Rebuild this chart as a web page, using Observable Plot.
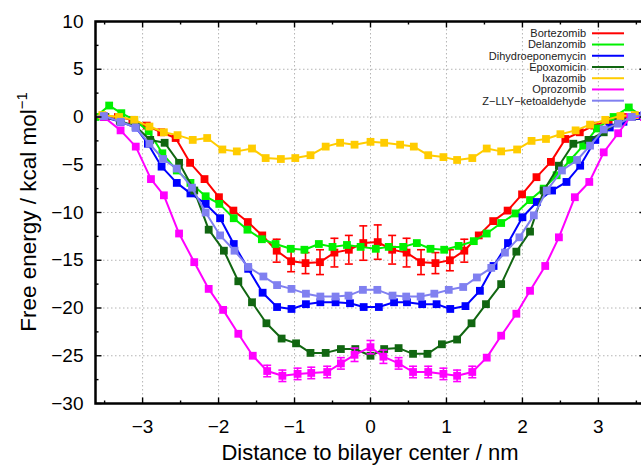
<!DOCTYPE html>
<html><head><meta charset="utf-8">
<script src="https://cdn.jsdelivr.net/npm/d3@7"></script>
<script src="https://cdn.jsdelivr.net/npm/@observablehq/plot@0.6"></script>
<style>
html,body{margin:0;padding:0;background:#fff;overflow:hidden;width:641px;height:466px}
#chart{width:641px;height:466px;overflow:hidden;position:relative}
#chart svg{max-width:none !important;width:650px !important;height:466px !important;display:block}
</style></head><body><div id="chart"></div>
<script>
const seriesNames = ["Bortezomib","Delanzomib","Dihydroeponemycin","Epoxomicin","Ixazomib","Oprozomib","Z\u2212LLY\u2212ketoaldehyde"];
const seriesColors = ["#ff0000","#00f000","#0000ff","#116611","#ffcc00","#ff00ff","#8080f0"];

const xTicks = [-3,-2,-1,0,1,2,3];
const xMinorTicks = [-3.5,-2.5,-1.5,-0.5,0.5,1.5,2.5,3.5];
const yTicks = [-30,-25,-20,-15,-10,-5,0,5,10];
const yMinorTicks = [-27.5,-22.5,-17.5,-12.5,-7.5,-2.5,2.5,7.5];

const bortezomibX = [-3.70,-3.515,-3.325,-3.135,-2.945,-2.755,-2.565,-2.375,-2.185,-1.995,-1.805,-1.615,-1.425,-1.235,-1.045,-0.855,-0.665,-0.475,-0.285,-0.095,0.095,0.285,0.475,0.665,0.855,1.045,1.235,1.425,1.615,1.805,1.995,2.185,2.375,2.565,2.755,2.945,3.135,3.325,3.515,3.70];
const bortezomibY = [0,0.1,0,-0.3,-0.9,-1.6,-2.2,-4.8,-6.5,-8.4,-9.8,-11.0,-12.4,-14.0,-15.1,-15.3,-15.2,-14.2,-13.9,-13.2,-13.1,-13.9,-14.2,-15.2,-15.3,-15.0,-14.0,-12.4,-10.9,-9.8,-8.1,-6.3,-4.7,-2.3,-1.6,-0.9,-0.4,0,0.1,0];
const bortezomibErr = [null,null,null,null,null,null,null,null,null,null,null,null,null,1.2,1.1,1.1,1.3,1.5,1.5,1.8,1.8,1.5,1.5,1.3,1.1,1.1,1.2,null,null,null,null,null,null,null,null,null,null,null,null,null];

const delanzomibX = [-3.62,-3.44,-3.28,-3.11,-2.92,-2.74,-2.55,-2.37,-2.17,-1.99,-1.80,-1.62,-1.43,-1.25,-1.05,-0.87,-0.68,-0.50,-0.31,-0.13,0.07,0.24,0.43,0.61,0.79,0.97,1.16,1.36,1.53,1.72,1.91,2.10,2.28,2.45,2.63,2.80,2.98,3.20,3.40,3.60];
const delanzomibY = [0,1.2,0.4,-0.3,-1.5,-3.8,-5.6,-6.9,-8.3,-9.1,-10.6,-11.8,-12.8,-13.3,-13.8,-13.9,-13.3,-13.6,-13.4,-13.6,-13.8,-13.6,-13.6,-13.2,-13.8,-13.9,-13.5,-13.0,-12.2,-11.1,-10.1,-8.7,-7.5,-6.1,-4.5,-3.0,-1.2,0.0,1.0,0];

const dihydroX = [-3.70,-3.51,-3.29,-3.09,-2.93,-2.75,-2.55,-2.37,-2.17,-1.98,-1.80,-1.61,-1.42,-1.23,-1.04,-0.85,-0.66,-0.46,-0.27,-0.09,0.11,0.31,0.48,0.68,0.87,1.05,1.25,1.44,1.62,1.81,2.00,2.19,2.39,2.58,2.76,2.96,3.15,3.33,3.53,3.70];
const dihydroY = [0,0,-0.5,-1.1,-2.8,-5.2,-6.9,-8.0,-9.1,-10.6,-13.3,-15.9,-18.4,-19.9,-20.1,-19.6,-19.4,-19.4,-19.5,-19.9,-19.9,-19.4,-19.4,-19.6,-19.6,-20.1,-19.8,-18.2,-15.6,-13.2,-10.5,-8.9,-7.7,-6.8,-5.1,-2.4,-1.1,-0.5,0.1,0];

const epoxomicinX = [-3.70,-3.49,-3.30,-3.09,-2.90,-2.71,-2.52,-2.32,-2.13,-1.93,-1.74,-1.56,-1.37,-1.17,-0.98,-0.79,-0.59,-0.39,-0.20,0,0.18,0.37,0.56,0.75,0.94,1.14,1.33,1.52,1.72,1.92,2.10,2.28,2.48,2.67,2.87,3.07,3.26,3.44,3.62];
const epoxomicinY = [0,0,-0.4,-1.0,-2.4,-2.7,-4.8,-7.7,-11.8,-14.0,-17.2,-19.4,-21.6,-23.2,-23.7,-24.7,-24.7,-24.3,-24.3,-25.0,-24.3,-24.2,-24.8,-24.8,-23.8,-23.3,-21.6,-19.6,-17.5,-14.1,-12.0,-7.7,-5.1,-2.8,-2.4,-1.6,-0.5,0,0];

const ixazomibX = [-3.70,-3.53,-3.31,-3.11,-2.91,-2.72,-2.54,-2.34,-2.15,-1.95,-1.76,-1.56,-1.38,-1.18,-0.99,-0.79,-0.59,-0.40,-0.21,0,0.18,0.39,0.57,0.76,0.96,1.14,1.34,1.53,1.72,1.93,2.12,2.31,2.50,2.70,2.89,3.09,3.29,3.48,3.70];
const ixazomibY = [0,0.2,0,-0.3,-1.0,-1.6,-1.9,-2.4,-2.2,-3.4,-3.6,-3.3,-4.3,-4.4,-4.3,-4.0,-3.1,-2.7,-2.9,-2.6,-2.7,-2.9,-3.1,-4.0,-4.2,-4.5,-4.3,-3.3,-3.6,-3.4,-2.5,-2.3,-1.8,-1.4,-0.8,-0.3,0.1,0.2,0];

const oprozomibX = [-3.70,-3.51,-3.29,-3.09,-2.89,-2.72,-2.52,-2.32,-2.13,-1.94,-1.74,-1.55,-1.36,-1.16,-0.96,-0.78,-0.57,-0.39,-0.21,0,0.17,0.37,0.56,0.76,0.96,1.14,1.34,1.53,1.72,1.92,2.10,2.30,2.48,2.69,2.88,3.07,3.26,3.42,3.60];
const oprozomibY = [0,0,-1.4,-3.1,-6.5,-8.2,-12.2,-15.2,-18.0,-20.2,-22.7,-25.0,-26.6,-27.1,-26.9,-26.8,-26.7,-25.8,-24.9,-24.1,-25.1,-25.8,-26.7,-26.7,-26.9,-27.1,-26.7,-25.2,-22.9,-20.6,-18.2,-15.6,-12.6,-8.4,-6.8,-3.7,-1.7,0,0];
const oprozomibErr = [null,null,null,null,null,null,null,null,null,null,null,null,0.6,0.6,0.6,0.6,0.6,0.6,0.7,0.7,0.7,0.6,0.6,0.6,0.6,0.6,0.6,null,null,null,null,null,null,null,null,null,null,null,null];

const zllyX = [-3.70,-3.51,-3.29,-3.09,-2.91,-2.73,-2.55,-2.35,-2.17,-1.98,-1.79,-1.61,-1.41,-1.23,-1.04,-0.85,-0.66,-0.46,-0.29,-0.10,0.09,0.29,0.47,0.66,0.84,1.03,1.22,1.40,1.59,1.77,1.96,2.15,2.32,2.52,2.72,2.89,3.07,3.26,3.44,3.60];
const zllyY = [0,0.1,-0.5,-1.1,-2.8,-4.4,-5.4,-7.4,-10.0,-12.4,-14.0,-15.7,-16.7,-17.6,-18.0,-18.5,-18.8,-18.8,-18.7,-18.1,-18.1,-18.7,-18.8,-18.8,-18.5,-18.1,-17.8,-16.8,-15.8,-14.2,-12.6,-10.3,-7.7,-5.6,-4.5,-3.0,-1.3,-0.7,0,0.2];

const seriesX = [bortezomibX, delanzomibX, dihydroX, epoxomicinX, ixazomibX, oprozomibX, zllyX];
const seriesY = [bortezomibY, delanzomibY, dihydroY, epoxomicinY, ixazomibY, oprozomibY, zllyY];
const seriesErr = [bortezomibErr, null, null, null, null, oprozomibErr, null];

const series = seriesNames.map((name, k) => ({
  name, color: seriesColors[k],
  rows: seriesX[k].map((x, i) => ({x, y: seriesY[k][i], err: seriesErr[k] ? seriesErr[k][i] : null}))
}));

const font = "'Liberation Sans', Arial, Helvetica, sans-serif";
const lineSym = (x1, y1, x2, y2) => ({draw(ctx){ ctx.moveTo(x1, y1); ctx.lineTo(x2, y2); }});
const capSym = lineSym(-4, 0, 4, 0);

const marks = [
  Plot.gridX(xTicks, {stroke: "#b4b4b4", strokeOpacity: 1, strokeDasharray: "1.5,2.5"}),
  Plot.gridY(yTicks.slice(1, -1), {stroke: "#b4b4b4", strokeOpacity: 1, strokeDasharray: "1.5,2.5"})
];
for (const s of series) {
  const errRows = s.rows.filter(d => d.err != null);
  marks.push(Plot.line(s.rows, {x: "x", y: "y", stroke: s.color, strokeWidth: 2, clip: true}));
  if (errRows.length) {
    marks.push(Plot.ruleX(errRows, {x: "x", y1: d => d.y - d.err, y2: d => d.y + d.err, stroke: s.color, strokeWidth: 1.6}));
    marks.push(Plot.dot(errRows, {x: "x", y: d => d.y - d.err, symbol: capSym, fill: "none", stroke: s.color, strokeWidth: 1.6}));
    marks.push(Plot.dot(errRows, {x: "x", y: d => d.y + d.err, symbol: capSym, fill: "none", stroke: s.color, strokeWidth: 1.6}));
  }
  marks.push(Plot.dot(s.rows, {x: "x", y: "y", symbol: "square", r: 4.4, fill: s.color, stroke: "none", clip: true}));
}
marks.push(
  Plot.dot(yTicks, {y: d => d, frameAnchor: "left", symbol: lineSym(0,0,6,0), fill: "none", stroke: "black", strokeWidth: 1.4}),
  Plot.dot(yMinorTicks, {y: d => d, frameAnchor: "left", symbol: lineSym(0,0,3,0), fill: "none", stroke: "black", strokeWidth: 1.4}),
  Plot.dot(yTicks, {y: d => d, frameAnchor: "right", symbol: lineSym(0,0,-6,0), fill: "none", stroke: "black", strokeWidth: 1.4}),
  Plot.dot(yMinorTicks, {y: d => d, frameAnchor: "right", symbol: lineSym(0,0,-3,0), fill: "none", stroke: "black", strokeWidth: 1.4}),
  Plot.dot(xTicks, {x: d => d, frameAnchor: "bottom", symbol: lineSym(0,0,0,-6), fill: "none", stroke: "black", strokeWidth: 1.4}),
  Plot.dot(xMinorTicks, {x: d => d, frameAnchor: "bottom", symbol: lineSym(0,0,0,-3), fill: "none", stroke: "black", strokeWidth: 1.4}),
  Plot.dot(xTicks, {x: d => d, frameAnchor: "top", symbol: lineSym(0,0,0,6), fill: "none", stroke: "black", strokeWidth: 1.4}),
  Plot.dot(xMinorTicks, {x: d => d, frameAnchor: "top", symbol: lineSym(0,0,0,3), fill: "none", stroke: "black", strokeWidth: 1.4}),
  Plot.axisX({ticks: xTicks, anchor: "bottom", tickSize: 0, tickPadding: 16, fontSize: 19, label: null}),
  Plot.axisY({ticks: yTicks, anchor: "left", tickSize: 0, tickPadding: 12, fontSize: 19, label: null}),
  Plot.frame({stroke: "black", strokeWidth: 2.5})
);

const chart = Plot.plot({
  width: 650, height: 466,
  marginLeft: 95, marginRight: 5, marginTop: 21, marginBottom: 63,
  x: {domain: [-3.62, 3.62]},
  y: {domain: [-30, 10]},
  style: {fontFamily: font, fontSize: "19px", color: "black", background: "white", overflow: "visible", maxWidth: "none"},
  marks
});
document.getElementById("chart").appendChild(chart);

const svg = d3.select(chart);
svg.append("text")
  .attr("x", 370).attr("y", 460)
  .attr("text-anchor", "middle")
  .attr("font-family", font).attr("font-size", 22).attr("fill", "black")
  .text("Distance to bilayer center / nm");
const yl = svg.append("text")
  .attr("transform", "translate(36,212) rotate(-90)")
  .attr("text-anchor", "middle")
  .attr("font-family", font).attr("font-size", 22.5).attr("fill", "black");
yl.append("tspan").text("Free energy / kcal mol");
yl.append("tspan").attr("dy", -9).attr("font-size", 15).text("\u22121");

const lg = svg.append("g").attr("font-family", font).attr("font-size", 11).attr("fill", "#222");
seriesNames.forEach((name, i) => {
  const cy = 33.3 + i * 11.23;
  lg.append("text").attr("x", 586).attr("y", cy).attr("dy", "0.35em").attr("text-anchor", "end").text(name);
  lg.append("line").attr("x1", 592).attr("x2", 624).attr("y1", cy).attr("y2", cy)
    .attr("stroke", seriesColors[i]).attr("stroke-width", 2);
});
</script></body></html>
